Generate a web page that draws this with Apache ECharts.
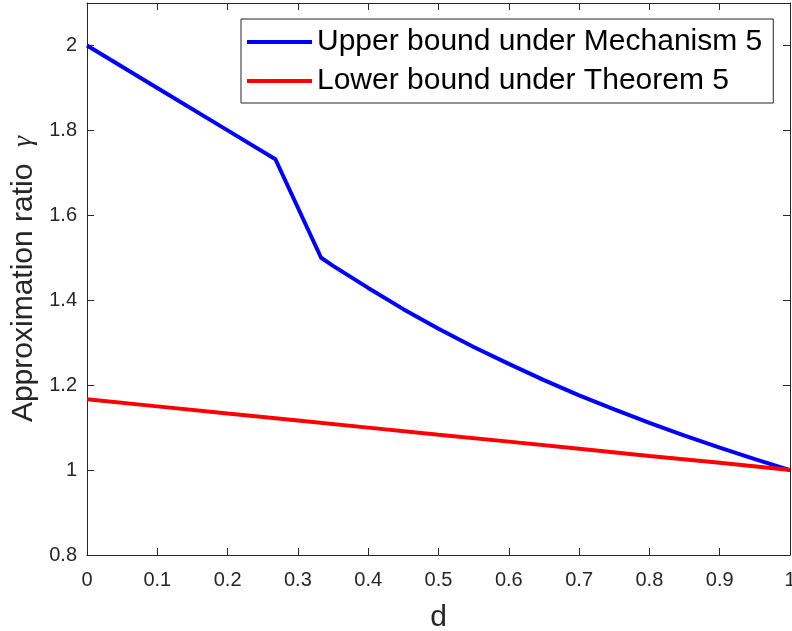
<!DOCTYPE html>
<html>
<head>
<meta charset="utf-8">
<script src="https://cdn.jsdelivr.net/npm/echarts@6/dist/echarts.min.js"></script>
<style>html,body{margin:0;padding:0;background:#fff;}#c{width:792px;height:631px;}</style>
</head>
<body>
<div id="c"></div>
<script>
const seriesNames = ['Upper bound under Mechanism 5', 'Lower bound under Theorem 5'];
const upperX = [0, 0.1, 0.2, 0.268, 0.333, 0.35, 0.4, 0.45, 0.5, 0.55, 0.6, 0.65, 0.7, 0.75, 0.8, 0.85, 0.9, 0.95, 1.0];
const upperY = [2.0, 1.9, 1.8, 1.732, 1.5, 1.481, 1.429, 1.379, 1.333, 1.290, 1.25, 1.212, 1.176, 1.143, 1.111, 1.081, 1.053, 1.026, 1.0];
const lowerX = [0, 0.1, 0.2, 0.3, 0.4, 0.5, 0.6, 0.7, 0.8, 0.9, 1.0];
const lowerY = [1.167, 1.15, 1.133, 1.117, 1.1, 1.083, 1.067, 1.05, 1.033, 1.017, 1.0];
const xTicks = [0, 0.1, 0.2, 0.3, 0.4, 0.5, 0.6, 0.7, 0.8, 0.9, 1];
const yTicks = [0.8, 1, 1.2, 1.4, 1.6, 1.8, 2];

const FONT = "'Liberation Sans', Arial, Helvetica, sans-serif";
const AX = '#262626';
const upperData = upperX.map((x, i) => [x, upperY[i]]);
const lowerData = lowerX.map((x, i) => [x, lowerY[i]]);

function isTick(list, v) { return list.some(t => Math.abs(t - v) < 1e-6); }

const chart = echarts.init(document.getElementById('c'), null, {renderer: 'canvas'});
const baseAxis = {
  type: 'value',
  axisLine: {show: true, onZero: false, lineStyle: {color: AX, width: 1}},
  axisTick: {show: true, inside: true, length: 7, lineStyle: {color: AX}},
  splitLine: {show: false},
  minorTick: {show: false}
};
chart.setOption({
  animation: false,
  backgroundColor: '#fff',
  textStyle: {fontFamily: FONT},
  grid: {left: 87, right: 2, top: 3, bottom: 76, containLabel: false, outerBoundsMode: 'none'},
  legend: {
    left: 241, top: 19,
    orient: 'vertical',
    icon: 'rect',
    itemWidth: 65, itemHeight: 4, itemGap: 7,
    padding: [7, 11, 6, 6],
    backgroundColor: '#fff',
    borderColor: AX, borderWidth: 1,
    textStyle: {fontFamily: FONT, fontSize: 30, lineHeight: 32, color: '#000'},
    data: seriesNames
  },
  xAxis: [
    Object.assign({}, baseAxis, {
      position: 'bottom', min: 0, max: 1, interval: 0.1,
      name: 'd', nameLocation: 'middle', nameGap: 48,
      nameTextStyle: {fontFamily: FONT, fontSize: 30, color: AX},
      axisLabel: {show: true, margin: 15, fontFamily: FONT, fontSize: 20, color: AX,
        formatter: v => isTick(xTicks, v) ? String(+v.toFixed(2)) : ''}
    }),
    Object.assign({}, baseAxis, {
      position: 'top', min: 0, max: 1, interval: 0.1, axisLabel: {show: false}
    })
  ],
  yAxis: [
    Object.assign({}, baseAxis, {
      position: 'left', min: 0.8, max: 2.1, interval: 0.2,
      name: '{a|Approximation ratio  }{g|γ}', nameLocation: 'middle', nameGap: 48,
      nameTextStyle: {fontFamily: FONT, fontSize: 30, color: AX,
        rich: {a: {fontFamily: FONT, fontSize: 30, color: AX},
               g: {fontFamily: "'Liberation Serif', 'DejaVu Serif', serif", fontSize: 28, fontStyle: 'italic', color: AX}}},
      axisLabel: {show: true, margin: 10, fontFamily: FONT, fontSize: 20, color: AX,
        formatter: v => isTick(yTicks, v) ? String(+v.toFixed(2)) : ''}
    }),
    Object.assign({}, baseAxis, {
      position: 'right', min: 0.8, max: 2.1, interval: 0.2, axisLabel: {show: false}
    })
  ],
  series: [
    {name: seriesNames[0], type: 'line', data: upperData, showSymbol: false, symbol: 'none',
     lineStyle: {color: '#0000ff', width: 4}, itemStyle: {color: '#0000ff'}, z: 3},
    {name: seriesNames[1], type: 'line', data: lowerData, showSymbol: false, symbol: 'none',
     lineStyle: {color: '#ff0000', width: 4}, itemStyle: {color: '#ff0000'}, z: 4}
  ]
});
</script>
</body>
</html>
